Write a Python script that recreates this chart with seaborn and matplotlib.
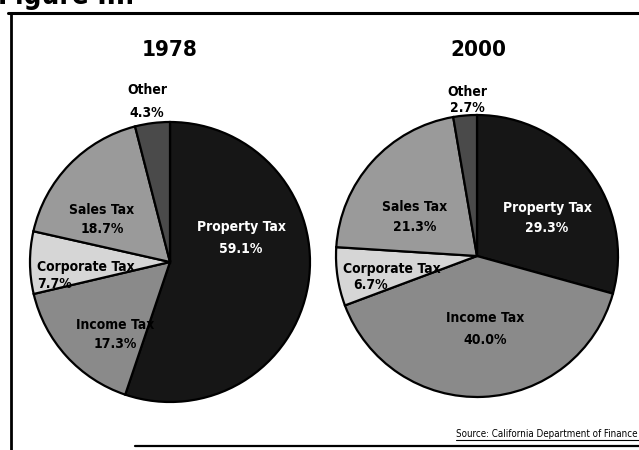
import matplotlib
matplotlib.use("Agg")
import matplotlib.pyplot as plt
import seaborn as sns
from matplotlib.lines import Line2D

# Revenue shares (percent) by source
sources = ["Property Tax", "Income Tax", "Corporate Tax", "Sales Tax", "Other"]
shares_1978 = [59.1, 17.3, 7.7, 18.7, 4.3]
shares_2000 = [29.3, 40.0, 6.7, 21.3, 2.7]
years = ["1978", "2000"]

sns.set_theme(style="white")
FONT = ["DejaVu Sans"]
plt.rcParams["font.family"] = FONT
STRETCH = "condensed"

W, H = 639, 450
fig = plt.figure(figsize=(W / 100, H / 100), dpi=100)
ax = fig.add_axes([0, 0, 1, 1])

palette = sns.color_palette(["#161616", "#8a8a8a", "#d6d6d6", "#9a9a9a", "#4a4a4a"])


def py(y):
    """Convert a top-down pixel row into data y."""
    return H - y


# pie layout: centre (px) and radius (px)
pies = [
    dict(values=shares_1978, cx=170, cy=262, r=140, title_x=170),
    dict(values=shares_2000, cx=477, cy=256, r=141, title_x=478),
]

# label anchors in px: (x, y of name line, y of value line, ha, value x offset)
label_pos = [
    {
        "Property Tax": (241, 227, 249, "center", 0),
        "Income Tax": (115, 325, 344, "center", 0),
        "Corporate Tax": (37, 267, 284, "left", 0),
        "Sales Tax": (102, 210, 229, "center", 0),
        "Other": (147, 90, 113, "center", 0),
    },
    {
        "Property Tax": (547, 208, 228, "center", 0),
        "Income Tax": (485, 318, 340, "center", 0),
        "Corporate Tax": (343, 269, 285, "left", 10),
        "Sales Tax": (415, 207, 227, "center", 0),
        "Other": (467, 92, 108, "center", 0),
    },
]

for year, spec, lp in zip(years, pies, label_pos):
    ax.pie(
        spec["values"],
        colors=palette,
        startangle=90,
        counterclock=False,
        center=(spec["cx"], py(spec["cy"])),
        radius=spec["r"],
        wedgeprops=dict(edgecolor="black", linewidth=1.6),
    )
    ax.text(spec["title_x"], py(50), year, ha="center", va="center",
            fontsize=16, fontweight="bold", fontstretch=STRETCH,
            color="black", family=FONT)
    for name, val in zip(sources, spec["values"]):
        x, y1, y2, ha, dx = lp[name]
        col = "white" if name == "Property Tax" else "black"
        ax.text(x, py(y1), name, ha=ha, va="center", fontsize=10,
                fontweight="bold", fontstretch=STRETCH, color=col, family=FONT)
        ax.text(x + dx, py(y2), f"{val:.1f}%", ha=ha, va="center",
                fontsize=10, fontweight="bold", fontstretch=STRETCH,
                color=col, family=FONT)

ax.set_xlim(0, W)
ax.set_ylim(0, H)
ax.set_aspect("auto")
ax.axis("off")

# frame around the figure panel
ax.add_line(Line2D([8, W], [py(13), py(13)], color="black", linewidth=2.2))
ax.add_line(Line2D([11, 11], [py(13), 0], color="black", linewidth=2.0))
ax.add_line(Line2D([135, W], [py(446), py(446)], color="black", linewidth=1.6))

# heading running off the top edge
ax.text(-2, py(4), "Figure III.", ha="left", va="baseline", fontsize=20,
        fontweight="bold", fontstretch=STRETCH, color="black", family=FONT)

# source note
ax.text(456, py(437), "Source: California Department of Finance", ha="left",
        va="baseline", fontsize=7, fontstretch=STRETCH, color="black",
        family=FONT)
ax.add_line(Line2D([456, W], [py(440), py(440)], color="black", linewidth=0.8))

fig.savefig("out.png", dpi=100)
